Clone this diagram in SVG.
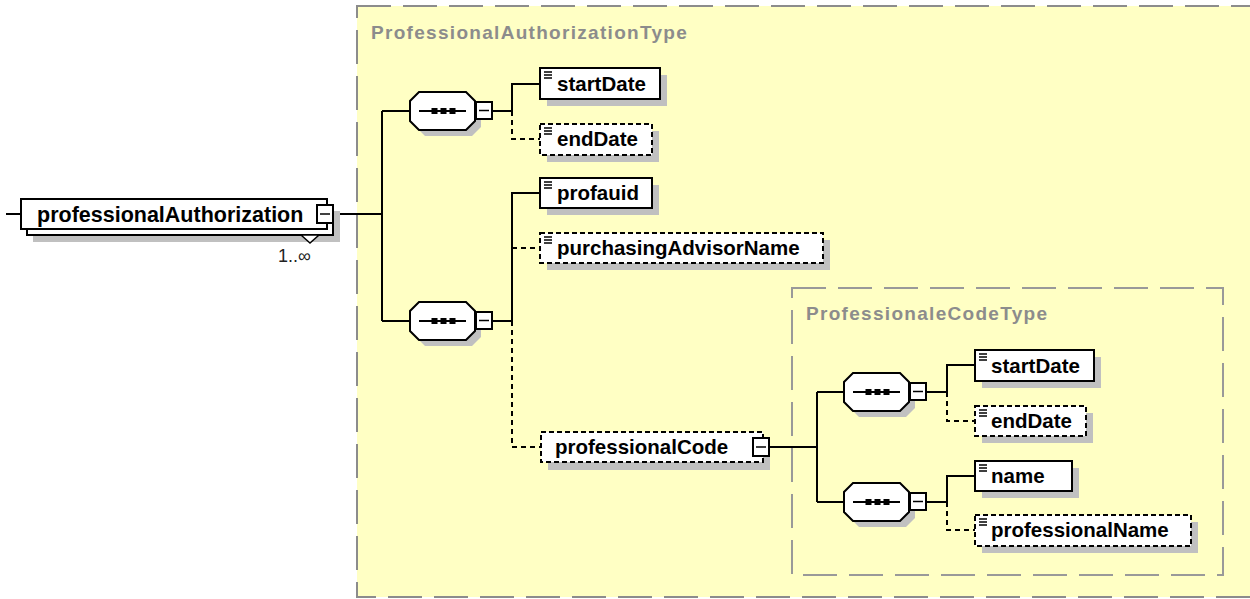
<svg xmlns="http://www.w3.org/2000/svg" width="1250" height="599" viewBox="0 0 1250 599">
<style>
.el{fill:#fff;stroke:#000;stroke-width:2}
.opt{stroke-dasharray:5 3}
.sh{fill:#c0c0c0}
.t{font-family:"Liberation Sans",Arial,sans-serif;font-weight:bold;font-size:20.5px;fill:#000}
.ttl{font-family:"Liberation Sans",Arial,sans-serif;font-weight:bold;font-size:19px;fill:#8c8c8c;letter-spacing:1.3px}
.ln{stroke:#000;stroke-width:2;fill:none}
.dl{stroke-dasharray:5 4}
.box{fill:#ffffc4;stroke:#8c8c8c;stroke-width:2;stroke-dasharray:34 12}
.ibox{fill:none;stroke:#999;stroke-width:2;stroke-dasharray:34 12}
</style>
<defs>
<g id="seq">
<polygon class="sh" points="15,6 62,6 71,15 71,35 62,44 15,44 6,35 6,15"/>
<polygon class="el" points="9,0 56,0 65,9 65,29 56,38 9,38 0,29 0,9"/>
<line x1="9" y1="19" x2="56" y2="19" stroke="#000" stroke-width="2"/>
<rect x="21.5" y="16" width="6" height="6" fill="#000"/>
<rect x="30.5" y="16" width="6" height="6" fill="#000"/>
<rect x="39.5" y="16" width="6" height="6" fill="#000"/>
<rect x="66" y="10" width="16" height="17" fill="#fff" stroke="#000" stroke-width="2"/>
<line x1="69" y1="18.5" x2="79" y2="18.5" stroke="#000" stroke-width="1.5"/>
</g>
<path id="eq" d="M4,4H12M4,7H12M4,10H12" stroke="#000" stroke-width="1.5" fill="none"/>
<g id="minus">
<rect x="0" y="0" width="16" height="18" fill="#fff" stroke="#000" stroke-width="2"/>
<line x1="3" y1="9" x2="13" y2="9" stroke="#000" stroke-width="1.5"/>
</g>
</defs>
<rect width="1250" height="599" fill="#fff"/>
<rect class="box" x="357" y="6" width="910" height="591"/>
<text class="ttl" x="371" y="39">ProfessionalAuthorizationType</text>
<rect class="ibox" x="792" y="288" width="431" height="287"/>
<text class="ttl" x="806" y="320">ProfessionaleCodeType</text>

<g id="connectors">
<path class="ln" d="M6,214H21M333,214H382M382,111V321M382,111H410M382,321H410"/>
<path class="ln" d="M492,111H512M512,111V84H540"/>
<path class="ln dl" d="M512,111V139H540"/>
<path class="ln" d="M492,321H512M512,321V193H540"/>
<path class="ln dl" d="M512,248H540M512,321V447H541"/>
<path class="ln" d="M769,447H817M817,392V502M817,392H844M817,502H844"/>
<path class="ln" d="M926,392H947M947,392V365H975"/>
<path class="ln dl" d="M947,392V421H975"/>
<path class="ln" d="M926,502H947M947,502V476H975"/>
<path class="ln dl" d="M947,502V530H975"/>
</g>

<g id="professionalAuthorization">
<rect class="sh" x="33" y="211" width="307" height="31"/>
<rect class="el" x="27" y="205" width="306" height="30"/>
<polygon points="301,235 310,243 319,235" fill="#fff" stroke="#000" stroke-width="1.5"/>
<rect class="el" x="21" y="199" width="306" height="30"/>
<text class="t" x="37" y="222" style="font-size:21.5px">professionalAuthorization</text>
<use href="#minus" x="317" y="205"/>
<text x="278" y="262" style="font-family:'Liberation Sans',Arial,sans-serif;font-size:18px;fill:#222">1..∞</text>
</g>

<g id="seq1"><use href="#seq" x="410" y="92"/></g>
<g id="seq2"><use href="#seq" x="410" y="302"/></g>

<g id="startDate">
<rect class="sh" x="547" y="75" width="120" height="31"/>
<rect class="el" x="540" y="68" width="120" height="31"/>
<use href="#eq" x="540" y="68"/>
<text class="t" x="557" y="91">startDate</text>
</g>
<g id="endDate">
<rect class="sh" x="547" y="131" width="112" height="31"/>
<rect class="el opt" x="540" y="124" width="112" height="31"/>
<use href="#eq" x="540" y="124"/>
<text class="t" x="557" y="146">endDate</text>
</g>
<g id="profauid">
<rect class="sh" x="547" y="185" width="112" height="30"/>
<rect class="el" x="540" y="178" width="112" height="30"/>
<use href="#eq" x="540" y="178"/>
<text class="t" x="557" y="200">profauid</text>
</g>
<g id="purchasingAdvisorName">
<rect class="sh" x="547" y="240" width="283" height="30"/>
<rect class="el opt" x="540" y="233" width="283" height="30"/>
<use href="#eq" x="540" y="233"/>
<text class="t" x="557" y="255">purchasingAdvisorName</text>
</g>
<g id="professionalCode">
<rect class="sh" x="548" y="439" width="222" height="31"/>
<rect class="el opt" x="541" y="432" width="222" height="30"/>
<text class="t" x="555" y="454">professionalCode</text>
<use href="#minus" x="753" y="438"/>
</g>

<g id="innerSeq1"><use href="#seq" x="844" y="373"/></g>
<g id="innerSeq2"><use href="#seq" x="844" y="483"/></g>

<g id="innerStartDate">
<rect class="sh" x="982" y="357" width="119" height="31"/>
<rect class="el" x="975" y="350" width="119" height="31"/>
<use href="#eq" x="975" y="350"/>
<text class="t" x="991" y="373">startDate</text>
</g>
<g id="innerEndDate">
<rect class="sh" x="982" y="413" width="111" height="30"/>
<rect class="el opt" x="975" y="406" width="111" height="30"/>
<use href="#eq" x="975" y="406"/>
<text class="t" x="991" y="428">endDate</text>
</g>
<g id="name">
<rect class="sh" x="982" y="468" width="97" height="30"/>
<rect class="el" x="975" y="461" width="97" height="30"/>
<use href="#eq" x="975" y="461"/>
<text class="t" x="991" y="483">name</text>
</g>
<g id="professionalName">
<rect class="sh" x="982" y="522" width="216" height="31"/>
<rect class="el opt" x="975" y="515" width="216" height="31"/>
<use href="#eq" x="975" y="515"/>
<text class="t" x="991" y="537">professionalName</text>
</g>
</svg>
